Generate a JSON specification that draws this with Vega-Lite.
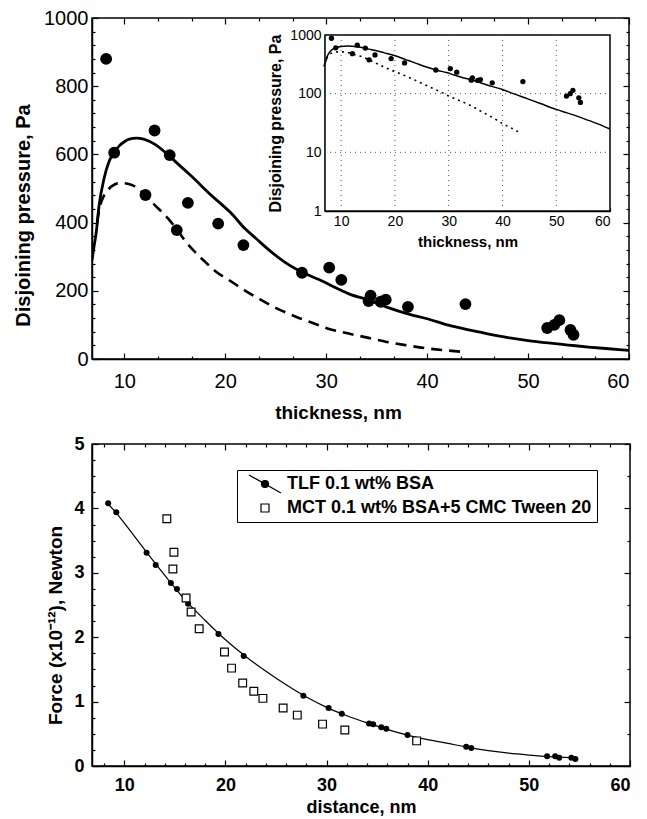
{
  "$schema": "https://vega.github.io/schema/vega-lite/v6.json",
  "padding": {"left": 12, "top": 7, "right": 5, "bottom": 0},
  "spacing": 11,
  "resolve": {"legend": {"shape": "independent", "fill": "independent", "stroke": "independent"}},
  "config": {
    "font": "Liberation Sans",
    "view": {"stroke": "black", "strokeWidth": 1.5},
    "axis": {"labelFont": "Liberation Sans", "titleFont": "Liberation Sans", "labelColor": "black", "titleColor": "black", "domainColor": "black", "tickColor": "black", "grid": false, "domainWidth": 1.5, "tickWidth": 1.2}
  },
  "datasets": {
    "top_points": [
      {"t": 8.2, "p": 880}, {"t": 9.0, "p": 605}, {"t": 13.0, "p": 670}, {"t": 14.5, "p": 598},
      {"t": 12.1, "p": 481}, {"t": 16.3, "p": 458}, {"t": 15.2, "p": 378}, {"t": 19.3, "p": 397},
      {"t": 21.8, "p": 334}, {"t": 27.6, "p": 253}, {"t": 30.3, "p": 268}, {"t": 31.5, "p": 232},
      {"t": 34.2, "p": 170}, {"t": 34.4, "p": 186}, {"t": 35.4, "p": 168}, {"t": 35.9, "p": 174},
      {"t": 38.1, "p": 153}, {"t": 43.8, "p": 161}, {"t": 51.9, "p": 91}, {"t": 52.6, "p": 100},
      {"t": 53.1, "p": 114}, {"t": 54.2, "p": 85}, {"t": 54.5, "p": 71}
    ],
    "top_solid": [
      {"t": 6.8, "p": 290}, {"t": 7.0, "p": 330}, {"t": 7.2, "p": 367}, {"t": 7.5, "p": 450},
      {"t": 8.0, "p": 530}, {"t": 8.5, "p": 580}, {"t": 9.0, "p": 606}, {"t": 9.5, "p": 625},
      {"t": 10.0, "p": 637}, {"t": 10.5, "p": 645}, {"t": 11.2, "p": 648}, {"t": 12.0, "p": 644},
      {"t": 13.0, "p": 630}, {"t": 14.4, "p": 597}, {"t": 15.5, "p": 567}, {"t": 16.4, "p": 543},
      {"t": 17.5, "p": 512}, {"t": 18.5, "p": 483}, {"t": 19.7, "p": 452}, {"t": 20.5, "p": 430},
      {"t": 22.0, "p": 381}, {"t": 23.0, "p": 355}, {"t": 24.0, "p": 328}, {"t": 26.0, "p": 282},
      {"t": 28.0, "p": 249}, {"t": 29.6, "p": 229}, {"t": 31.0, "p": 208}, {"t": 32.5, "p": 188},
      {"t": 34.0, "p": 175}, {"t": 36.0, "p": 152}, {"t": 38.0, "p": 133}, {"t": 40.0, "p": 118},
      {"t": 42.0, "p": 100}, {"t": 44.0, "p": 86}, {"t": 46.0, "p": 74}, {"t": 48.0, "p": 63},
      {"t": 50.0, "p": 54}, {"t": 52.0, "p": 47}, {"t": 54.0, "p": 41}, {"t": 56.0, "p": 35},
      {"t": 58.0, "p": 30}, {"t": 60.0, "p": 25}
    ],
    "top_dashed": [
      {"t": 7.3, "p": 400}, {"t": 7.6, "p": 449}, {"t": 8.0, "p": 480}, {"t": 8.5, "p": 500},
      {"t": 9.0, "p": 511}, {"t": 9.6, "p": 516}, {"t": 10.6, "p": 512}, {"t": 11.5, "p": 496},
      {"t": 12.1, "p": 478}, {"t": 13.0, "p": 452}, {"t": 14.3, "p": 413}, {"t": 15.0, "p": 388},
      {"t": 16.2, "p": 340}, {"t": 17.2, "p": 308}, {"t": 18.0, "p": 285}, {"t": 19.0, "p": 258},
      {"t": 20.5, "p": 229}, {"t": 22.0, "p": 200}, {"t": 23.5, "p": 174}, {"t": 25.0, "p": 150},
      {"t": 27.0, "p": 124}, {"t": 29.0, "p": 102}, {"t": 30.2, "p": 89}, {"t": 32.0, "p": 76},
      {"t": 34.2, "p": 62}, {"t": 36.0, "p": 50}, {"t": 38.2, "p": 39}, {"t": 40.0, "p": 31},
      {"t": 42.0, "p": 25}, {"t": 43.5, "p": 21}
    ],
    "inset_box": [{"t1": 7, "t2": 60, "p1": 1, "p2": 1000}],
    "inset_grid_x": [
      {"t": 10, "p1": 1, "p2": 1000}, {"t": 20, "p1": 1, "p2": 1000}, {"t": 30, "p1": 1, "p2": 1000},
      {"t": 40, "p1": 1, "p2": 1000}, {"t": 50, "p1": 1, "p2": 1000}
    ],
    "inset_grid_y": [
      {"p": 10, "t1": 7, "t2": 60}, {"p": 100, "t1": 7, "t2": 60}
    ],
    "tlf_points": [
      {"d": 8.4, "f": 4.08}, {"d": 9.2, "f": 3.94}, {"d": 12.2, "f": 3.31}, {"d": 13.1, "f": 3.12},
      {"d": 14.6, "f": 2.84}, {"d": 15.2, "f": 2.75}, {"d": 16.3, "f": 2.52}, {"d": 19.3, "f": 2.05},
      {"d": 21.8, "f": 1.71}, {"d": 27.7, "f": 1.09}, {"d": 30.2, "f": 0.90}, {"d": 31.5, "f": 0.81},
      {"d": 34.2, "f": 0.66}, {"d": 34.6, "f": 0.65}, {"d": 35.4, "f": 0.60}, {"d": 35.9, "f": 0.58},
      {"d": 38.0, "f": 0.48}, {"d": 43.8, "f": 0.30}, {"d": 44.3, "f": 0.28}, {"d": 51.8, "f": 0.15},
      {"d": 52.6, "f": 0.15}, {"d": 53.0, "f": 0.13}, {"d": 54.2, "f": 0.13}, {"d": 54.6, "f": 0.11}
    ],
    "tlf_fit": [
      {"d": 8.2, "f": 4.10}, {"d": 9.2, "f": 3.93}, {"d": 10, "f": 3.77}, {"d": 12, "f": 3.36},
      {"d": 14, "f": 2.96}, {"d": 16, "f": 2.58}, {"d": 18, "f": 2.26}, {"d": 20, "f": 1.96},
      {"d": 22, "f": 1.70}, {"d": 24, "f": 1.47}, {"d": 26, "f": 1.26}, {"d": 28, "f": 1.07},
      {"d": 30, "f": 0.91}, {"d": 32, "f": 0.78}, {"d": 34, "f": 0.67}, {"d": 36, "f": 0.57},
      {"d": 38, "f": 0.48}, {"d": 40, "f": 0.41}, {"d": 42, "f": 0.35}, {"d": 44, "f": 0.29},
      {"d": 46, "f": 0.24}, {"d": 48, "f": 0.20}, {"d": 50, "f": 0.17}, {"d": 52, "f": 0.145},
      {"d": 54, "f": 0.13}, {"d": 54.8, "f": 0.12}
    ],
    "mct_points": [
      {"d": 14.2, "f": 3.84}, {"d": 14.9, "f": 3.32}, {"d": 14.8, "f": 3.06}, {"d": 16.1, "f": 2.61},
      {"d": 16.6, "f": 2.39}, {"d": 17.4, "f": 2.13}, {"d": 19.9, "f": 1.77}, {"d": 20.6, "f": 1.52},
      {"d": 21.7, "f": 1.29}, {"d": 22.8, "f": 1.16}, {"d": 23.7, "f": 1.05}, {"d": 25.7, "f": 0.90},
      {"d": 27.1, "f": 0.79}, {"d": 29.6, "f": 0.65}, {"d": 31.8, "f": 0.56}, {"d": 38.9, "f": 0.39}
    ],
    "empty": []
  },
  "vconcat": [
    {
      "width": 537,
      "height": 341,
      "layer": [
        {
          "layer": [
            {
              "data": {"name": "top_dashed"},
              "mark": {"type": "line", "stroke": "black", "strokeWidth": 2.6, "strokeDash": [11, 7], "interpolate": "monotone", "clip": true},
              "encoding": {
                "x": {"field": "t", "type": "quantitative", "scale": {"domain": [6.8, 60], "nice": false, "zero": false},
                  "axis": {"orient": "bottom", "values": [10, 20, 30, 40, 50, 60], "labelFontSize": 20, "tickSize": -6, "labelPadding": 18,
                    "title": "thickness, nm", "titleFontSize": 19, "titleFontWeight": "bold", "titleX": 246, "titlePadding": 12}},
                "y": {"field": "p", "type": "quantitative", "scale": {"domain": [0, 1000], "nice": false},
                  "axis": {"orient": "left", "values": [0, 200, 400, 600, 800, 1000], "format": "d", "labelFontSize": 20, "tickSize": -6, "labelPadding": 10,
                    "title": "Disjoining pressure, Pa", "titleFontSize": 20, "titleFontWeight": "bold", "titleY": 197, "titlePadding": 10}}
              }
            },
            {
              "data": {"name": "top_solid"},
              "mark": {"type": "line", "stroke": "black", "strokeWidth": 2.8, "interpolate": "monotone", "clip": true},
              "encoding": {"x": {"field": "t", "type": "quantitative"}, "y": {"field": "p", "type": "quantitative"}}
            },
            {
              "data": {"name": "top_points"},
              "mark": {"type": "circle", "size": 140, "color": "black", "opacity": 1},
              "encoding": {"x": {"field": "t", "type": "quantitative"}, "y": {"field": "p", "type": "quantitative"}}
            }
          ]
        },
        {
          "data": {"name": "empty"},
          "mark": {"type": "rule"},
          "encoding": {
            "x": {"field": "a", "type": "quantitative", "scale": {"domain": [6.8, 60], "nice": false, "zero": false},
              "axis": {"orient": "top", "values": [10, 20, 30, 40, 50, 60], "labels": false, "domain": false, "tickSize": -6, "title": null}},
            "y": {"field": "b", "type": "quantitative", "scale": {"domain": [0, 1000], "nice": false},
              "axis": {"orient": "right", "values": [0, 200, 400, 600, 800, 1000], "labels": false, "domain": false, "tickSize": -6, "title": null}}
          }
        },
        {
          "data": {"name": "empty"},
          "mark": {"type": "rule"},
          "encoding": {
            "x": {"field": "a", "type": "quantitative", "scale": {"domain": [6.8, 60], "nice": false, "zero": false},
              "axis": {"orient": "top", "values": [13.33, 16.67, 23.33, 26.67, 33.33, 36.67, 43.33, 46.67, 53.33, 56.67], "labels": false, "domain": false, "tickSize": -3, "title": null}},
            "y": {"field": "b", "type": "quantitative", "scale": {"domain": [0, 1000], "nice": false},
              "axis": {"orient": "right", "values": [40, 80, 120, 160, 240, 280, 320, 360, 440, 480, 520, 560, 640, 680, 720, 760, 840, 880, 920, 960], "labels": false, "domain": false, "tickSize": -3, "title": null}}
          }
        },
        {
          "data": {"name": "empty"},
          "mark": {"type": "rule"},
          "encoding": {
            "x": {"field": "a", "type": "quantitative", "scale": {"domain": [6.8, 60], "nice": false, "zero": false},
              "axis": {"orient": "bottom", "values": [13.33, 16.67, 23.33, 26.67, 33.33, 36.67, 43.33, 46.67, 53.33, 56.67], "labels": false, "domain": false, "tickSize": -3, "title": null}},
            "y": {"field": "b", "type": "quantitative", "scale": {"domain": [0, 1000], "nice": false},
              "axis": {"orient": "left", "values": [40, 80, 120, 160, 240, 280, 320, 360, 440, 480, 520, 560, 640, 680, 720, 760, 840, 880, 920, 960], "labels": false, "domain": false, "tickSize": -3, "title": null}}
          }
        },
        {
          "layer": [
            {
              "data": {"name": "inset_box"},
              "mark": {"type": "rect", "fill": "white", "stroke": "black", "strokeWidth": 1.5},
              "encoding": {
                "x": {"field": "t1", "type": "quantitative", "scale": {"domain": [7, 60], "range": [233, 518], "nice": false, "zero": false},
                  "axis": {"orient": "bottom", "offset": -148, "values": [10, 20, 30, 40, 50, 60], "labelFontSize": 14, "tickSize": -3, "labelPadding": 6,
                    "title": "thickness, nm", "titleFontSize": 15, "titleFontWeight": "bold", "titlePadding": 6}},
                "x2": {"field": "t2"},
                "y": {"field": "p1", "type": "quantitative", "scale": {"type": "log", "domain": [1, 1000], "range": [193, 17], "nice": false},
                  "axis": {"orient": "left", "offset": -233, "values": [1, 10, 100, 1000], "format": "d", "labelFontSize": 14, "tickSize": -3, "labelPadding": 7,
                    "title": "Disjoining pressure, Pa", "titleFontSize": 16, "titleFontWeight": "bold", "titlePadding": 6}},
                "y2": {"field": "p2"}
              }
            },
            {
              "data": {"name": "inset_grid_x"},
              "mark": {"type": "rule", "stroke": "#555", "strokeWidth": 1, "strokeDash": [1, 4]},
              "encoding": {"x": {"field": "t", "type": "quantitative"}, "y": {"field": "p1", "type": "quantitative"}, "y2": {"field": "p2"}}
            },
            {
              "data": {"name": "inset_grid_y"},
              "mark": {"type": "rule", "stroke": "#555", "strokeWidth": 1, "strokeDash": [1, 4]},
              "encoding": {"y": {"field": "p", "type": "quantitative"}, "x": {"field": "t1", "type": "quantitative"}, "x2": {"field": "t2"}}
            },
            {
              "data": {"name": "top_dashed"},
              "mark": {"type": "line", "stroke": "black", "strokeWidth": 1.6, "strokeDash": [2, 4], "interpolate": "monotone", "clip": true},
              "encoding": {"x": {"field": "t", "type": "quantitative"}, "y": {"field": "p", "type": "quantitative"}}
            },
            {
              "data": {"name": "top_solid"},
              "mark": {"type": "line", "stroke": "black", "strokeWidth": 1.5, "interpolate": "monotone", "clip": true},
              "encoding": {"x": {"field": "t", "type": "quantitative"}, "y": {"field": "p", "type": "quantitative"}}
            },
            {
              "data": {"name": "top_points"},
              "mark": {"type": "circle", "size": 28, "color": "black", "opacity": 1},
              "encoding": {"x": {"field": "t", "type": "quantitative"}, "y": {"field": "p", "type": "quantitative"}}
            }
          ]
        }
      ],
      "resolve": {"scale": {"x": "independent", "y": "independent"}}
    },
    {
      "width": 538,
      "height": 322,
      "layer": [
        {
          "layer": [
            {
              "data": {"name": "tlf_fit"},
              "mark": {"type": "line", "stroke": "black", "strokeWidth": 1.2, "interpolate": "monotone"},
              "encoding": {
                "x": {"field": "d", "type": "quantitative", "scale": {"domain": [6.8, 60], "nice": false, "zero": false},
                  "axis": {"orient": "bottom", "values": [10, 20, 30, 40, 50, 60], "labelFontSize": 18, "labelFontWeight": "bold", "tickSize": -6, "labelPadding": 16,
                    "title": "distance, nm", "titleFontSize": 18, "titleFontWeight": "bold", "titlePadding": 4}},
                "y": {"field": "f", "type": "quantitative", "scale": {"domain": [0, 5], "nice": false},
                  "axis": {"orient": "left", "values": [0, 1, 2, 3, 4, 5], "format": "d", "labelFontSize": 18, "labelFontWeight": "bold", "tickSize": -6, "labelPadding": 14,
                    "title": "Force  (x10⁻¹²), Newton", "titleFontSize": 19, "titleFontWeight": "bold", "titleY": 181, "titlePadding": 8}}
              }
            },
            {
              "data": {"name": "tlf_points"},
              "mark": {"type": "circle", "size": 36, "color": "black", "opacity": 1},
              "encoding": {"x": {"field": "d", "type": "quantitative"}, "y": {"field": "f", "type": "quantitative"}}
            },
            {
              "data": {"name": "mct_points"},
              "mark": {"type": "point", "shape": "square", "size": 60, "fill": "white", "stroke": "black", "strokeWidth": 1.2, "opacity": 1},
              "encoding": {"x": {"field": "d", "type": "quantitative"}, "y": {"field": "f", "type": "quantitative"}}
            },
            {
              "data": {"name": "empty"},
              "mark": {"type": "point", "filled": true, "strokeWidth": 1.2, "opacity": 1},
              "encoding": {
                "shape": {"field": "series", "type": "nominal",
                  "scale": {"domain": ["TLF 0.1 wt% BSA", "MCT 0.1 wt% BSA+5 CMC Tween 20"],
                    "range": ["M-3.2,-1.8L3.2,1.8M0.7,0A0.7,0.7,0,1,1,-0.7,0A0.7,0.7,0,1,1,0.7,0Z", "M-0.8,-0.8H0.8V0.8H-0.8Z"]},
                  "legend": {"orient": "none", "legendX": 145, "legendY": 26, "title": null, "strokeColor": "black", "fillColor": "white",
                    "padding": 5, "symbolSize": 100, "symbolOffset": 14, "labelOffset": 13, "symbolStrokeColor": "black", "symbolStrokeWidth": 1.2, "symbolOpacity": 1,
                    "labelFont": "Liberation Sans", "labelFontSize": 18, "labelFontWeight": "bold", "labelColor": "black", "rowPadding": 3, "labelLimit": 400}},
                "fill": {"field": "series", "type": "nominal",
                  "scale": {"domain": ["TLF 0.1 wt% BSA", "MCT 0.1 wt% BSA+5 CMC Tween 20"], "range": ["black", "white"]}},
                "stroke": {"field": "series", "type": "nominal",
                  "scale": {"domain": ["TLF 0.1 wt% BSA", "MCT 0.1 wt% BSA+5 CMC Tween 20"], "range": ["black", "black"]}}
              }
            }
          ]
        },
        {
          "data": {"name": "empty"},
          "mark": {"type": "rule"},
          "encoding": {
            "x": {"field": "a", "type": "quantitative", "scale": {"domain": [6.8, 60], "nice": false, "zero": false},
              "axis": {"orient": "top", "values": [10, 20, 30, 40, 50, 60], "labels": false, "domain": false, "tickSize": -6, "title": null}},
            "y": {"field": "b", "type": "quantitative", "scale": {"domain": [0, 5], "nice": false},
              "axis": {"orient": "right", "values": [0, 1, 2, 3, 4, 5], "labels": false, "domain": false, "tickSize": -6, "title": null}}
          }
        },
        {
          "data": {"name": "empty"},
          "mark": {"type": "rule"},
          "encoding": {
            "x": {"field": "a", "type": "quantitative", "scale": {"domain": [6.8, 60], "nice": false, "zero": false},
              "axis": {"orient": "top", "values": [8, 12, 14, 16, 18, 22, 24, 26, 28, 32, 34, 36, 38, 42, 44, 46, 48, 52, 54, 56, 58], "labels": false, "domain": false, "tickSize": -3, "title": null}},
            "y": {"field": "b", "type": "quantitative", "scale": {"domain": [0, 5], "nice": false},
              "axis": {"orient": "right", "values": [0.5, 1.5, 2.5, 3.5, 4.5], "labels": false, "domain": false, "tickSize": -3, "title": null}}
          }
        },
        {
          "data": {"name": "empty"},
          "mark": {"type": "rule"},
          "encoding": {
            "x": {"field": "a", "type": "quantitative", "scale": {"domain": [6.8, 60], "nice": false, "zero": false},
              "axis": {"orient": "bottom", "values": [8, 12, 14, 16, 18, 22, 24, 26, 28, 32, 34, 36, 38, 42, 44, 46, 48, 52, 54, 56, 58], "labels": false, "domain": false, "tickSize": -3, "title": null}},
            "y": {"field": "b", "type": "quantitative", "scale": {"domain": [0, 5], "nice": false},
              "axis": {"orient": "left", "values": [0.25, 0.5, 0.75, 1.25, 1.5, 1.75, 2.25, 2.5, 2.75, 3.25, 3.5, 3.75, 4.25, 4.5, 4.75], "labels": false, "domain": false, "tickSize": -3, "title": null}}
          }
        }
      ],
      "resolve": {"scale": {"x": "independent", "y": "independent"}}
    }
  ]
}
